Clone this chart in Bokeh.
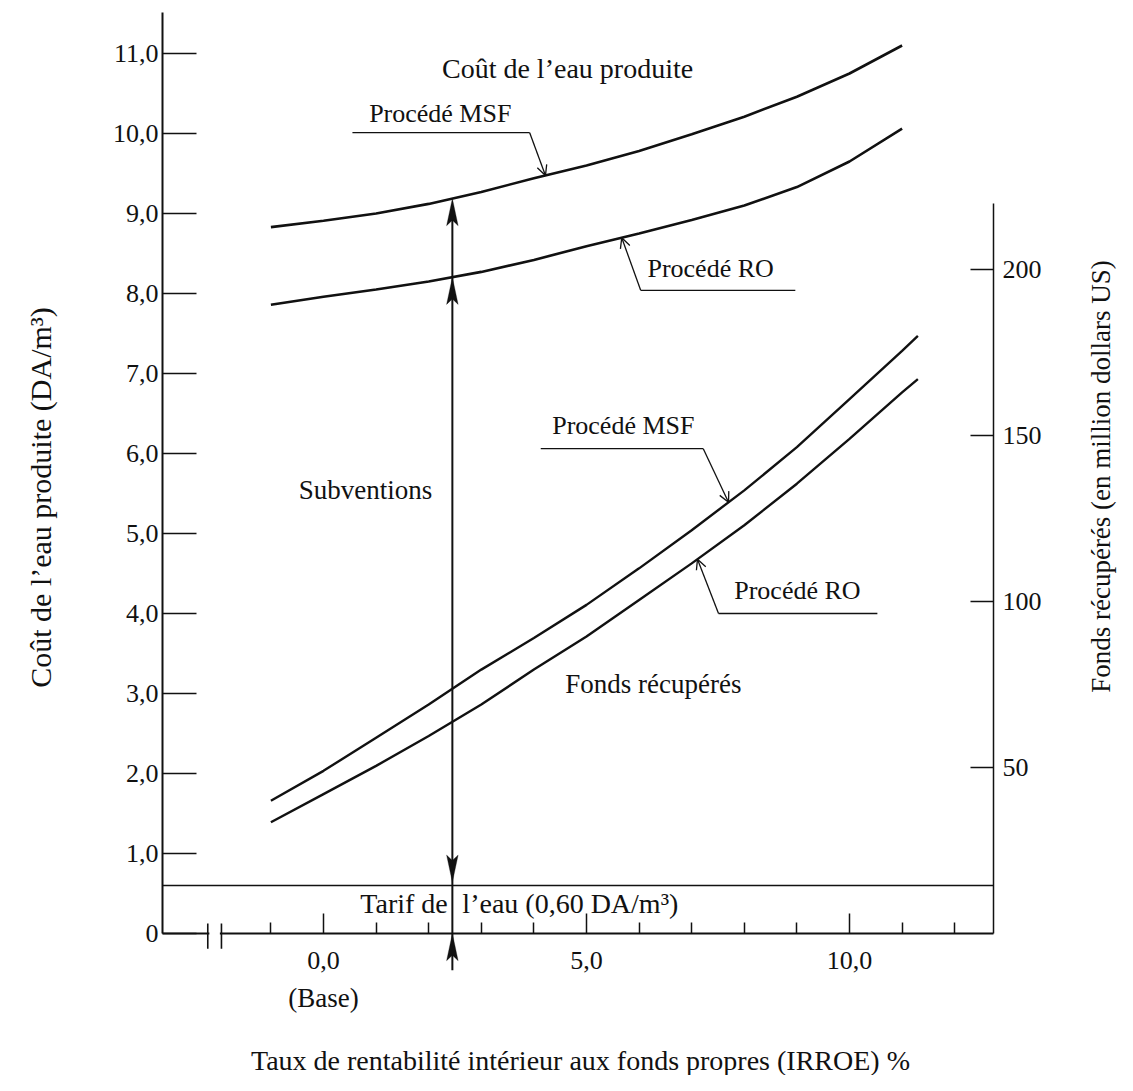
import numpy as np
from bokeh.plotting import figure
from bokeh.models import (Range1d, LinearAxis, FixedTicker, Label, Arrow,
                          OpenHead, PolyAnnotation, BoxAnnotation)
from bokeh.embed import file_html
from bokeh.resources import INLINE

# ---------------- data ----------------
irroe = [-1, 0, 1, 2, 3, 4, 5, 6, 7, 8, 9, 10, 11]
cost_msf = [8.83, 8.91, 9.00, 9.12, 9.27, 9.44, 9.60, 9.78, 9.99, 10.21, 10.46, 10.75, 11.10]
cost_ro = [7.86, 7.96, 8.05, 8.15, 8.27, 8.42, 8.59, 8.75, 8.92, 9.10, 9.33, 9.65, 10.06]

irroe_funds = [-1, 0, 1, 2, 3, 4, 5, 6, 7, 8, 9, 10, 11, 11.3]
funds_msf = [40, 49, 59, 69, 79.5, 89, 99, 110, 121.5, 133.5, 146.5, 161, 175.5, 180]
funds_ro = [33.5, 42, 50.5, 59.5, 69, 79.5, 89.5, 100.5, 111.5, 123, 135.5, 149, 163, 167]

tariff = 0.60            # DA/m3
subsidy_irroe = 2.45     # position of the subsidy arrow

x_ticks = [0, 5, 10]
x_tick_labels = ["0,0", "5,0", "10,0"]
x_minor_ticks = [-1, 1, 2, 3, 4, 6, 7, 8, 9, 11, 12]
y_ticks = [0, 1, 2, 3, 4, 5, 6, 7, 8, 9, 10, 11]
y_tick_labels = ["0", "1,0", "2,0", "3,0", "4,0", "5,0", "6,0", "7,0", "8,0", "9,0", "10,0", "11,0"]
funds_ticks = [50, 100, 150, 200]
funds_tick_labels = ["50", "100", "150", "200"]

# ---------------- layout ----------------
W, H = 1117, 1075
X0_PX, X_PX_PER = 323.0, 52.6     # pixel of IRROE 0, pixels per IRROE point
Y0_PX, Y_PX_PER = 933.0, 80.0     # pixel of cost 0, pixels per DA/m3
FUNDS_PER_DA = 24.1

def X(px):
    return (px - X0_PX) / X_PX_PER

def V(py):
    return (Y0_PX - py) / Y_PX_PER

X_LEFT, X_RIGHT = X(162), X(993)   # left and right axis
Y_TOP = V(12)
FUNDS_TOP = 220

FONT = "Liberation Serif"
INK = "#111111"
TXT = "27px"
TICK = "26px"

p = figure(width=W, height=H, output_backend="svg", toolbar_location=None, title=None,
           x_range=Range1d(X(0), X(W)), y_range=Range1d(V(H), V(0)),
           x_axis_type=None, y_axis_type=None,
           min_border_left=0, min_border_right=0, min_border_top=0, min_border_bottom=0)
p.outline_line_color = None
p.xgrid.visible = False
p.ygrid.visible = False
p.background_fill_color = "white"
p.extra_y_ranges = {"funds": Range1d(V(H) * FUNDS_PER_DA, V(0) * FUNDS_PER_DA)}

def style_axis(ax, tick_in, label_standoff, lw=2):
    ax.axis_line_color = INK
    ax.axis_line_width = lw
    ax.major_tick_line_color = INK
    ax.major_tick_line_width = 1.5
    ax.major_tick_in = tick_in
    ax.major_tick_out = 0
    ax.minor_tick_out = 0
    ax.major_label_text_font = FONT
    ax.major_label_text_font_size = TICK
    ax.major_label_text_color = INK
    ax.major_label_standoff = label_standoff

# bottom axis
xa = LinearAxis(ticker=FixedTicker(ticks=x_ticks, minor_ticks=x_minor_ticks),
                fixed_location=0, bounds=(X_LEFT, X_RIGHT))
xa.major_label_overrides = {t: s for t, s in zip(x_ticks, x_tick_labels)}
style_axis(xa, 20, 18)
xa.minor_tick_in = 11
xa.minor_tick_line_color = INK
xa.minor_tick_line_width = 1.5
p.add_layout(xa, "below")

# left axis
ya = LinearAxis(ticker=FixedTicker(ticks=y_ticks, minor_ticks=[]),
                fixed_location=X_LEFT, bounds=(0, Y_TOP))
ya.major_label_overrides = {t: s for t, s in zip(y_ticks, y_tick_labels)}
style_axis(ya, 34, 4)
p.add_layout(ya, "left")

# right axis (funds recovered)
ra = LinearAxis(y_range_name="funds", ticker=FixedTicker(ticks=funds_ticks, minor_ticks=[]),
                fixed_location=X_RIGHT, bounds=(0, FUNDS_TOP))
ra.major_label_overrides = {t: s for t, s in zip(funds_ticks, funds_tick_labels)}
style_axis(ra, 23, 9, lw=1.5)
p.add_layout(ra, "right")

# ---------------- curves ----------------
p.line(irroe, cost_msf, line_width=2.6, line_color=INK)
p.line(irroe, cost_ro, line_width=2.6, line_color=INK)
p.line(irroe_funds, funds_msf, line_width=2.4, line_color=INK, y_range_name="funds")
p.line(irroe_funds, funds_ro, line_width=2.4, line_color=INK, y_range_name="funds")

def rule(x0, y0, x1, y1, lw=1.3, y_range_name="default"):
    p.add_layout(Arrow(end=None, x_start=x0, y_start=y0, x_end=x1, y_end=y1,
                       line_color=INK, line_width=lw, y_range_name=y_range_name))

# tariff line
rule(X_LEFT, tariff, X_RIGHT, tariff, lw=1.6)

# axis break on the x axis
p.add_layout(BoxAnnotation(left=-2.17, right=-1.97, bottom=-0.03, top=0.03,
                           fill_color="white", fill_alpha=1, line_alpha=0))
for xb in (-2.2, -1.94):
    rule(xb, -0.19, xb, 0.125, lw=1.6)

# ---------------- subsidy arrow ----------------
top = float(np.interp(subsidy_irroe, irroe, cost_msf))
mid = float(np.interp(subsidy_irroe, irroe, cost_ro))
rule(subsidy_irroe, -0.46, subsidy_irroe, top - 0.1, lw=2)
HW, HL = 0.11, 0.34

def head(tip_y, up=True):
    d = -HL if up else HL
    return PolyAnnotation(xs=[subsidy_irroe, subsidy_irroe - HW, subsidy_irroe, subsidy_irroe + HW],
                          ys=[tip_y, tip_y + d, tip_y + d * 0.8, tip_y + d],
                          fill_color=INK, fill_alpha=1, line_color=INK, line_width=1)

p.add_layout(head(top, up=True))
p.add_layout(head(mid, up=True))
p.add_layout(head(tariff + 0.04, up=False))
p.add_layout(head(0.0, up=True))

# ---------------- texts ----------------
def label(x, y, text, y_range_name="default", align="center", size=TXT, angle=0.0):
    p.add_layout(Label(x=x, y=y, text=text, text_font=FONT, text_font_size=size,
                       text_color=INK, text_align=align, text_baseline="middle",
                       angle=angle, y_range_name=y_range_name))

def leader(points, y_range_name="default"):
    for (x0, y0), (x1, y1) in zip(points[:-2], points[1:-1]):
        rule(x0, y0, x1, y1, y_range_name=y_range_name)
    (x0, y0), (x1, y1) = points[-2], points[-1]
    p.add_layout(Arrow(end=OpenHead(size=10, line_width=1.3, line_color=INK),
                       x_start=x0, y_start=y0, x_end=x1, y_end=y1,
                       line_color=INK, line_width=1.3, y_range_name=y_range_name))

# axis titles
label(X(580), V(1060), "Taux de rentabilité intérieur aux fonds propres (IRROE) %", size="28px")
label(X(40), V(497), "Coût de l’eau produite (DA/m³)", size="30px", angle=np.pi / 2)
label(X(1100), V(476), "Fonds récupérés (en million dollars US)", angle=np.pi / 2)

label(4.64, 10.81, "Coût de l’eau produite", size="28px")
label(2.22, 10.25, "Procédé MSF", size="26px")
tip = 4.22
leader([(0.55, 10.01), (3.92, 10.01), (tip, float(np.interp(tip, irroe, cost_msf)))])
label(7.36, 8.31, "Procédé RO", size="26px")
tip = 5.67
leader([(8.97, 8.04), (6.03, 8.04), (tip, float(np.interp(tip, irroe, cost_ro)))])

label(0.80, 5.54, "Subventions")

label(5.70, 6.35 * FUNDS_PER_DA, "Procédé MSF", y_range_name="funds", size="26px")
tip = 7.70
leader([(4.13, 6.06 * FUNDS_PER_DA), (7.22, 6.06 * FUNDS_PER_DA),
        (tip, float(np.interp(tip, irroe_funds, funds_msf)))], y_range_name="funds")
label(9.01, 4.29 * FUNDS_PER_DA, "Procédé RO", y_range_name="funds", size="26px")
tip = 7.11
leader([(10.53, 4.0 * FUNDS_PER_DA), (7.51, 4.0 * FUNDS_PER_DA),
        (tip, float(np.interp(tip, irroe_funds, funds_ro)))], y_range_name="funds")
label(6.27, 3.125, "Fonds récupérés")

label(0.70, 0.375, "Tarif de", align="left", size="28px")
label(2.64, 0.375, "l’eau (0,60 DA/m³)", align="left", size="28px")
label(0.0, -0.80, "(Base)")

open("out.html", "w").write(file_html(p, INLINE))
